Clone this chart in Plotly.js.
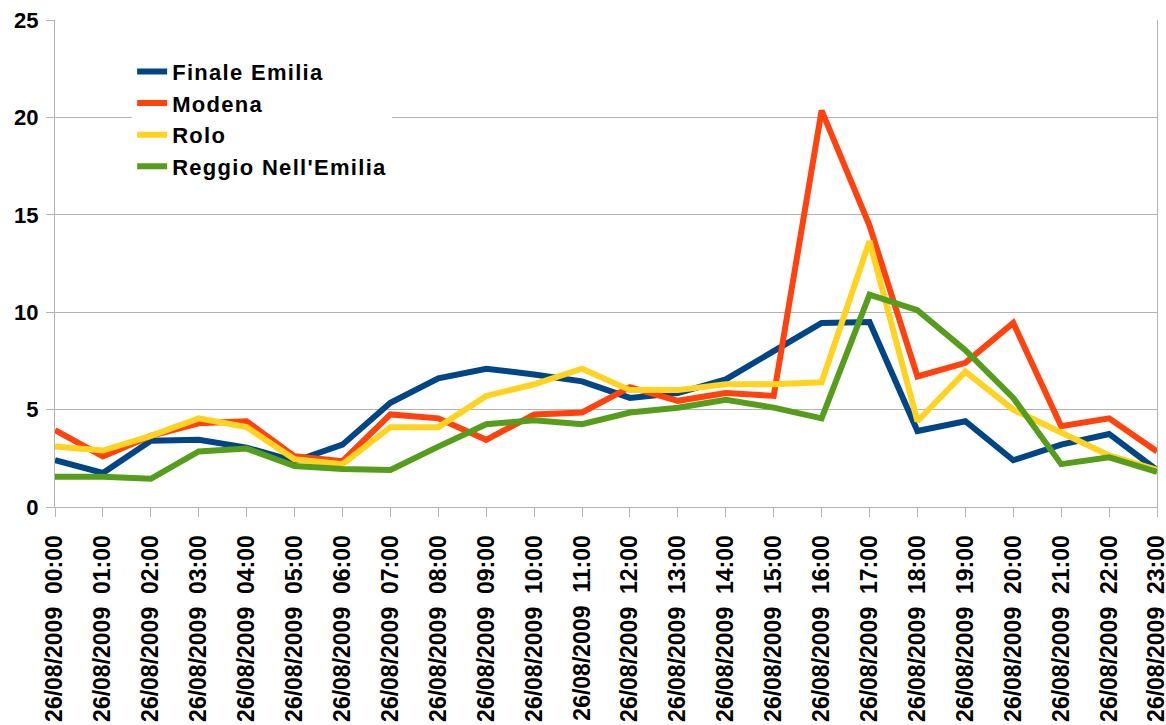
<!DOCTYPE html>
<html>
<head>
<meta charset="utf-8">
<script src="https://cdn.plot.ly/plotly-3.0.1.min.js"></script>
<style>
html,body{margin:0;padding:0;background:#fff;}
#chart{width:1166px;height:725px;}
text.legendtext{letter-spacing:1.3px;}
</style>
</head>
<body>
<div id="chart"></div>
<script>
var hours = ["00:00","01:00","02:00","03:00","04:00","05:00","06:00","07:00","08:00","09:00","10:00","11:00",
             "12:00","13:00","14:00","15:00","16:00","17:00","18:00","19:00","20:00","21:00","22:00","23:00"];
var categories = hours.map(function(h){ return "26/08/2009\u00a0\u00a0" + h; });

var finaleEmilia = [2.4, 1.75, 3.4, 3.45, 3.05, 2.35, 3.2, 5.35, 6.6, 7.1, 6.8, 6.45, 5.6, 5.85, 6.55, 8.0, 9.45, 9.5, 3.9, 4.4, 2.4, 3.2, 3.75, 1.9];
var modena       = [3.95, 2.6, 3.65, 4.3, 4.4, 2.6, 2.35, 4.75, 4.55, 3.45, 4.75, 4.85, 6.15, 5.45, 5.85, 5.7, 20.35, 14.45, 6.7, 7.4, 9.45, 4.15, 4.55, 2.85];
var rolo         = [3.1, 2.9, 3.65, 4.55, 4.1, 2.45, 2.2, 4.1, 4.1, 5.7, 6.3, 7.1, 6.0, 6.0, 6.3, 6.3, 6.4, 13.65, 4.4, 6.95, 5.0, 3.8, 2.65, 1.9];
var reggioEmilia = [1.55, 1.55, 1.45, 2.85, 3.0, 2.1, 1.95, 1.9, 3.1, 4.25, 4.45, 4.25, 4.85, 5.1, 5.5, 5.1, 4.55, 10.9, 10.1, 8.05, 5.6, 2.2, 2.55, 1.8];

var seriesNames = ["Finale Emilia", "Modena", "Rolo", "Reggio Nell'Emilia"];
var seriesValues = [finaleEmilia, modena, rolo, reggioEmilia];
var seriesColors = ["#004586", "#ff420e", "#ffd320", "#579d1c"];

var traces = seriesValues.map(function(v, i){
  return {
    type: "scatter", mode: "lines", x: categories, y: v, name: seriesNames[i],
    legendgroup: "g" + i,
    line: {color: seriesColors[i], width: 6}
  };
});

var fontFam = "Liberation Sans, Arial, sans-serif";
var layout = {
  width: 1166, height: 725,
  margin: {l: 55, r: 9, t: 20, b: 218},
  paper_bgcolor: "#ffffff", plot_bgcolor: "#ffffff",
  font: {family: fontFam, size: 22, color: "#000000", weight: 700},
  showlegend: true,
  legend: {
    x: 0.07, y: 0.937, xanchor: "left", yanchor: "top",
    bgcolor: "#ffffff", borderwidth: 0,
    font: {family: fontFam, size: 22, color: "#000000", weight: 700},
    tracegroupgap: 0, itemwidth: 30
  },
  xaxis: {
    type: "category", range: [0, 23],
    tickangle: -90, ticks: "outside", ticklen: 9, tickcolor: "#b3b3b3", tickwidth: 1,
    ticklabelstandoff: 9,
    showline: true, linecolor: "#b3b3b3", linewidth: 1,
    showgrid: false, zeroline: false,
    tickfont: {family: fontFam, size: 23, color: "#000000", weight: 700}
  },
  yaxis: {
    range: [0, 25], tickvals: [0, 5, 10, 15, 20, 25],
    ticks: "outside", ticklen: 8, tickcolor: "#b3b3b3", tickwidth: 1,
    ticklabelstandoff: 3,
    showline: true, mirror: true, linecolor: "#b3b3b3", linewidth: 1,
    showgrid: true, gridcolor: "#b3b3b3", gridwidth: 1, zeroline: false,
    tickfont: {family: fontFam, size: 22, color: "#000000", weight: 700}
  }
};

Plotly.newPlot("chart", traces, layout, {staticPlot: true, displayModeBar: false});
</script>
</body>
</html>
